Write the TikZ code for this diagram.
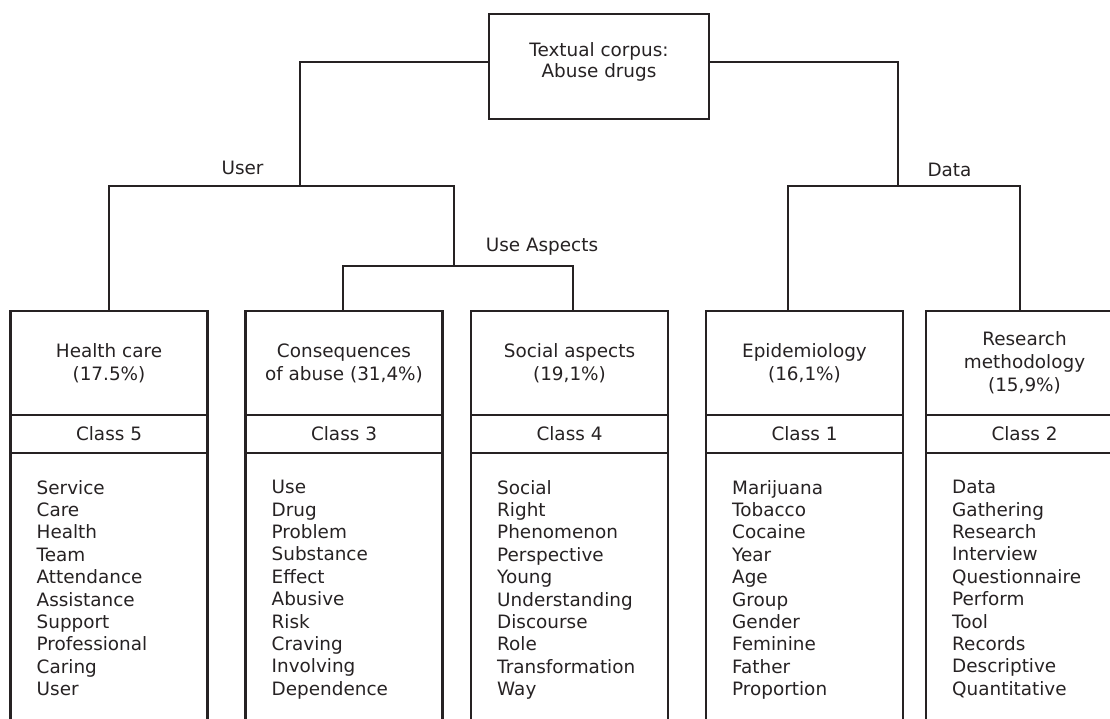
\documentclass[tikz,border=0pt]{standalone}
\usepackage{fontspec}
\setmainfont{DejaVu Sans}
\usetikzlibrary{positioning}
\definecolor{Ink}{HTML}{262223}
\tikzset{
  box/.style={draw,line width=2.4pt,outer sep=0pt,inner sep=0pt},
  rootbox/.style={box,minimum width=220pt,minimum height=105pt,align=center,text depth=12pt,font=\fontsize{18.4}{21}\selectfont},
  headbox/.style={box,minimum width=197pt,minimum height=104pt,align=center,font=\fontsize{18.4}{23}\selectfont},
  classbox/.style={box,minimum width=197pt,minimum height=38pt,font=\fontsize{18.4}{23}\selectfont},
  listbox/.style={box,minimum width=197pt,minimum height=290pt},
  wordlist/.style={inner sep=0pt,align=left,font=\fontsize{18.4}{22.4}\selectfont},
  branch/.style={inner sep=0pt,anchor=base,font=\fontsize{18.4}{22}\selectfont},
  link/.style={draw,line width=2.2pt}
}
\newcommand{\classcol}[5]{%
  \node[headbox] (#1-h) at (#2,363) {#3};
  \node[classbox,below=0pt of #1-h] (#1-c) {#4};
  \node[listbox,below=0pt of #1-c] (#1-l) {};
  \node[wordlist,anchor=north west] (#1-w) at ([xshift=26pt,yshift=-27pt]#1-l.north west) {#5};
}

\begin{document}
\begin{tikzpicture}[x=1pt,y=-1pt,color=Ink]
        \useasboundingbox (0,0) rectangle (1110,718);
        \clip (0,0) rectangle (1110,718);
        \node[rootbox] (root) at (599,66.5) {Textual corpus:\\Abuse drugs};
        \classcol{hc}{109}{Health care\\(17.5\%)}{Class 5}{Service\\Care\\Health\\Team\\Attendance\\Assistance\\Support\\Professional\\Caring\\User}
        \classcol{cons}{344}{Consequences\\of abuse (31,4\%)}{Class 3}{Use\\Drug\\Problem\\Substance\\Effect\\Abusive\\Risk\\Craving\\Involving\\Dependence}
        \classcol{soc}{569.5}{Social aspects\\(19,1\%)}{Class 4}{Social\\Right\\Phenomenon\\Perspective\\Young\\Understanding\\Discourse\\Role\\Transformation\\Way}
        \classcol{epi}{804.5}{Epidemiology\\(16,1\%)}{Class 1}{Marijuana\\Tobacco\\Cocaine\\Year\\Age\\Group\\Gender\\Feminine\\Father\\Proportion}
        \classcol{res}{1024.5}{Research\\methodology\\(15,9\%)}{Class 2}{Data\\Gathering\\Research\\Interview\\Questionnaire\\Perform\\Tool\\Records\\Descriptive\\Quantitative}
        \coordinate (userfork) at (300,186);
        \coordinate (datafork) at (898,186);
        \coordinate (usefork) at (454,266);
        \draw[link] ([yshift=4.5pt]root.west) -| (userfork);
        \draw[link] ([yshift=4.5pt]root.east) -| (datafork);
        \draw[link] (hc-h.north) |- (userfork) -| (usefork);
        \draw[link] ([xshift=-1pt]cons-h.north) |- (usefork) -| ([xshift=3.5pt]soc-h.north);
        \draw[link] ([xshift=-16.5pt]epi-h.north) |- (datafork) -| ([xshift=-4.5pt]res-h.north);
        \node[branch] (userlbl) at (242.5,174.3) {User};
        \node[branch] (datalbl) at (949.5,176) {Data};
        \node[branch] (uselbl) at (542,251) {Use Aspects};
      \end{tikzpicture}
\end{document}
